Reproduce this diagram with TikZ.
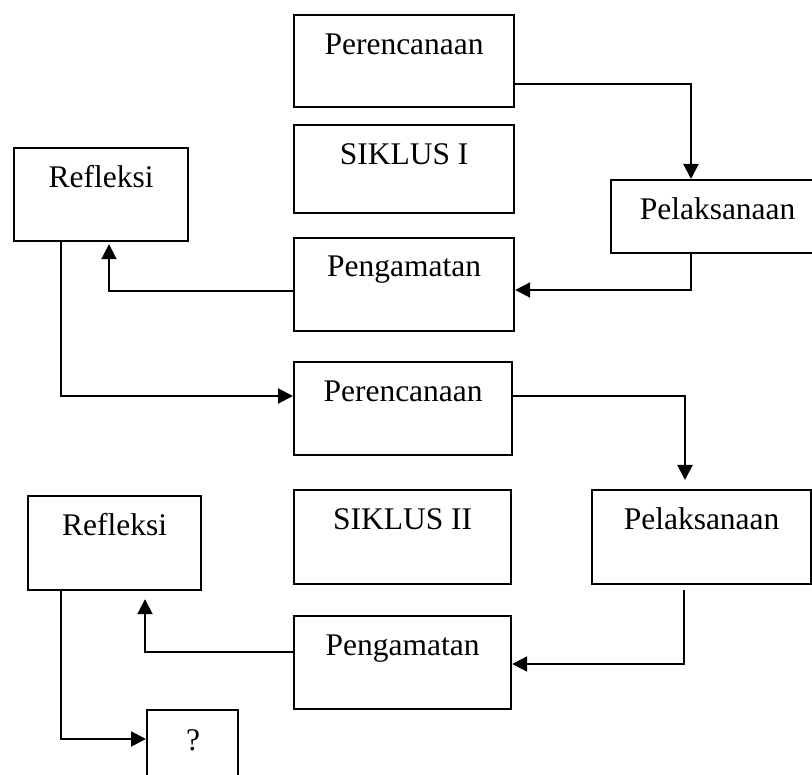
\documentclass[tikz,border=0pt]{standalone}
\usepackage{fontspec}
\setmainfont{Liberation Serif}
\usetikzlibrary{arrows.meta,calc}
\begin{document}
\begin{tikzpicture}[x=1pt,y=-1pt,
  box/.style={draw, line width=2.2pt, rectangle, anchor=north west, inner sep=0pt},
  lbl/.style={anchor=base, inner sep=0pt, font=\fontsize{31.5}{36}\selectfont},
  conn/.style={line width=2pt, -{Triangle[length=15pt,width=15pt]}}]
\useasboundingbox (0,0) rectangle (812,775);
\clip (0,0) rectangle (812,775);
% boxes: left, top, width, height
\node[box, minimum width=220pt, minimum height=92pt] (p1) at (293,14) {};
\node[box, minimum width=220pt, minimum height=88pt] (s1) at (293,124) {};
\node[box, minimum width=174pt, minimum height=93pt] (r1) at (13,147) {};
\node[box, minimum width=213pt, minimum height=73pt] (l1) at (610,179) {};
\node[box, minimum width=220pt, minimum height=93pt] (g1) at (293,237) {};
\node[box, minimum width=218pt, minimum height=93pt] (p2) at (293,361) {};
\node[box, minimum width=217pt, minimum height=94pt] (s2) at (293,489) {};
\node[box, minimum width=219pt, minimum height=94pt] (l2) at (591,489) {};
\node[box, minimum width=173pt, minimum height=94pt] (r2) at (27,495) {};
\node[box, minimum width=217pt, minimum height=93pt] (g2) at (293,615) {};
\node[box, minimum width=91pt, minimum height=100pt] (q) at (146,709) {};
% labels
\node[lbl] (p1t) at ($(p1.north)+(0,41)$) {Perencanaan};
\node[lbl] (s1t) at ($(s1.north)+(0,41)$) {SIKLUS I};
\node[lbl] (r1t) at ($(r1.north)+(0,41)$) {Refleksi};
\node[lbl] (l1t) at ($(l1.north)+(0,41)$) {Pelaksanaan};
\node[lbl] (g1t) at ($(g1.north)+(0,40)$) {Pengamatan};
\node[lbl] (p2t) at ($(p2.north)+(0,41)$) {Perencanaan};
\node[lbl] (s2t) at ($(s2.north)+(0,41)$) {SIKLUS II};
\node[lbl] (l2t) at ($(l2.north)+(0,41)$) {Pelaksanaan};
\node[lbl] (r2t) at ($(r2.north)+(0,41)$) {Refleksi};
\node[lbl] (g2t) at ($(g2.north)+(0,40)$) {Pengamatan};
\node[lbl] (qt) at ($(q.north west)+(47,41)$) {?};
% connectors
\draw[conn] (p1.east |- 0,84) -| ($(l1.north west)+(81,0)$);
\draw[conn] ($(l1.south west)+(81,0)$) |- (g1.east |- 0,290);
\draw[conn] (g1.west |- 0,291) -| ($(r1.south west)+(96,2)$);
\draw[conn] ($(r1.south west)+(48,0)$) |- (p2.west |- 0,396);
\draw[conn] (p2.east |- 0,396) -| ($(l2.north west)+(94,-9)$);
\draw[conn] ($(l2.south west)+(93,5)$) |- (g2.east |- 0,664);
\draw[conn] (g2.west |- 0,652) -| ($(r2.south west)+(118,8)$);
\draw[conn] ($(r2.south west)+(34,0)$) |- (q.west |- 0,739);
\end{tikzpicture}
\end{document}
